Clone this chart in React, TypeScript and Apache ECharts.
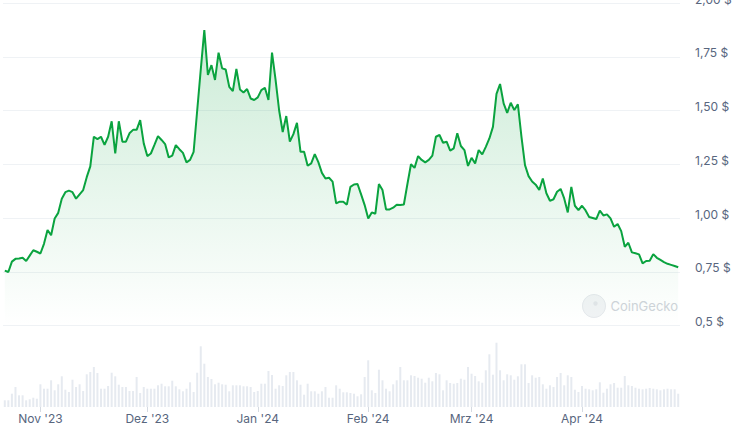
import React, { useEffect, useRef } from "react";
import * as echarts from "echarts";

const START_DATE = "2023-10-22";
const DAY_COUNT = 190;

const prices = [
  0.755, 0.749, 0.797, 0.81, 0.812, 0.815, 0.8, 0.825, 0.85, 0.843,
  0.835, 0.88, 0.944, 0.92, 0.998, 1.024, 1.09, 1.12, 1.127, 1.12,
  1.09, 1.11, 1.13, 1.19, 1.24, 1.378, 1.367, 1.378, 1.34, 1.378,
  1.45, 1.3, 1.45, 1.355, 1.355, 1.394, 1.41, 1.41, 1.455, 1.347,
  1.288, 1.3, 1.34, 1.381, 1.363, 1.344, 1.282, 1.29, 1.339, 1.32,
  1.303, 1.259, 1.27, 1.308, 1.5, 1.69, 1.874, 1.665, 1.711, 1.642,
  1.769, 1.696, 1.691, 1.61, 1.59, 1.693, 1.598, 1.584, 1.6, 1.556,
  1.549, 1.561, 1.595, 1.606, 1.549, 1.769, 1.642, 1.5, 1.4, 1.474,
  1.355, 1.39, 1.443, 1.308, 1.308, 1.243, 1.254, 1.297, 1.26, 1.21,
  1.184, 1.187, 1.169, 1.068, 1.076, 1.076, 1.062, 1.145, 1.156, 1.158,
  1.11, 1.06, 0.998, 1.026, 1.02, 1.158, 1.13, 1.04, 1.04, 1.048,
  1.062, 1.06, 1.063, 1.158, 1.25, 1.233, 1.288, 1.27, 1.259, 1.27,
  1.29, 1.378, 1.386, 1.35, 1.355, 1.313, 1.324, 1.394, 1.335, 1.316,
  1.242, 1.28, 1.254, 1.316, 1.296, 1.331, 1.37, 1.424, 1.577, 1.623,
  1.533, 1.489, 1.536, 1.502, 1.529, 1.378, 1.246, 1.195, 1.17, 1.155,
  1.13, 1.184, 1.115, 1.08, 1.087, 1.122, 1.135, 1.091, 1.026, 1.145,
  1.057, 1.037, 1.057, 1.035, 1.005, 1.0, 0.995, 1.034, 1.012, 1.017,
  0.998, 0.959, 0.972, 0.939, 0.866, 0.885, 0.84, 0.836, 0.831, 0.789,
  0.8, 0.801, 0.832, 0.815, 0.805, 0.795, 0.787, 0.782, 0.777, 0.771,
];

const volumes = [
  6.7, 6.7, 13.3, 20, 11.7, 11.7, 6.7, 7.7, 9.3, 8.3,
  22.7, 18.3, 18.3, 26.7, 16.7, 22.7, 30.7, 17.3, 15, 27.3,
  20, 22.7, 16, 32.7, 35, 40, 34, 18.3, 18.3, 21,
  34.3, 30.7, 22.3, 20, 20, 16, 16, 30, 14, 20,
  18.3, 18.3, 18.3, 21.7, 23.3, 20.7, 20.7, 26.3, 20.7, 17.7,
  15.7, 18.3, 24.7, 15, 34.3, 60.7, 43.3, 30, 28, 22.7,
  24.3, 22.7, 22.3, 15.7, 21.7, 21.7, 21.7, 20.7, 20.7, 20,
  15, 16, 23.3, 23.3, 36, 32, 18.3, 21.7, 21, 31.7,
  35, 35, 26.7, 22.3, 12.3, 23.3, 15.7, 15.7, 13.3, 15.7,
  20, 9.3, 9.3, 21.7, 18.3, 14.7, 14.7, 14, 13.3, 10.7,
  12.7, 30, 46.7, 16.7, 14, 37.3, 26.7, 18.3, 15.7, 22.7,
  26.7, 40, 26.7, 26.7, 31.7, 31, 29.3, 28.3, 24.3, 29.3,
  25.7, 34, 32.7, 16.7, 26.7, 24, 23.3, 24, 28.3, 27.3,
  40, 33.3, 31, 25.7, 24.3, 36.7, 52.7, 32.3, 64.3, 36.7,
  26.7, 32.7, 31.7, 27.3, 30.7, 42.7, 42.7, 24, 31.7, 29.3,
  30, 22.7, 18.3, 21.7, 20, 30, 34, 21.7, 31.7, 30,
  17.3, 15, 21, 18.3, 17.7, 16.7, 17.7, 24.7, 14.3, 18.3,
  22.7, 24, 19.3, 19.3, 31, 21.7, 21, 19.3, 18.3, 17.7,
  18.3, 19, 18.3, 17.7, 16.7, 17.7, 18.3, 17.7, 17.7, 13.3,
];

const priceTicks = [0.5, 0.75, 1.0, 1.25, 1.5, 1.75, 2.0];
const monthNames = ["Jan", "Feb", "Mrz", "Apr", "Mai", "Jun", "Jul", "Aug", "Sep", "Okt", "Nov", "Dez"];

function buildDates(): string[] {
  const out: string[] = [];
  const [y, m, d] = START_DATE.split("-").map(Number);
  const base = Date.UTC(y, m - 1, d);
  for (let i = 0; i < DAY_COUNT; i++) {
    out.push(new Date(base + i * 86400000).toISOString().slice(0, 10));
  }
  return out;
}

const dates = buildDates();

function fmtMonth(v: string): string {
  const [y, m] = v.split("-");
  return `${monthNames[Number(m) - 1]} '${y.slice(2)}`;
}

function fmtPrice(v: number): string {
  if (Math.abs(v - 0.5) < 1e-9) return "0,5 $";
  return v.toFixed(2).replace(".", ",") + " $";
}

const FONT = "Inter, 'Noto Sans', sans-serif";
const isMonthStart = (_i: number, v: string) => v.endsWith("-01");

export default function App() {
  const ref = useRef<HTMLDivElement>(null);
  useEffect(() => {
    if (!ref.current) return;
    const chart = echarts.init(ref.current, undefined, { renderer: "svg" });
    chart.setOption({
      animation: false,
      textStyle: { fontFamily: FONT },
      grid: [
        { left: 3, width: 677, top: 3, height: 322.5, containLabel: false, outerBoundsMode: "none" },
        { left: 3, width: 677, top: 330, height: 77, containLabel: false, outerBoundsMode: "none" },
      ],
      xAxis: [
        {
          type: "category",
          gridIndex: 0,
          data: dates,
          boundaryGap: true,
          axisLine: { show: false },
          axisTick: { show: false },
          axisLabel: { show: false },
          splitLine: { show: false },
        },
        {
          type: "category",
          gridIndex: 1,
          data: dates,
          boundaryGap: true,
          axisLine: { show: false },
          axisTick: {
            show: true,
            interval: isMonthStart,
            alignWithLabel: true,
            length: 5,
            lineStyle: { color: "#d5dae1", width: 1 },
          },
          axisLabel: {
            interval: isMonthStart,
            formatter: fmtMonth,
            color: "#58667e",
            fontSize: 12,
            fontFamily: FONT,
            margin: 5,
          },
          splitLine: { show: false },
        },
      ],
      yAxis: [
        {
          type: "value",
          gridIndex: 0,
          position: "right",
          min: priceTicks[0],
          max: priceTicks[priceTicks.length - 1],
          interval: 0.25,
          axisLine: { show: false },
          axisTick: { show: false },
          axisLabel: {
            formatter: (v: number) => `{t|${fmtPrice(v)}}`,
            margin: 15,
            verticalAlign: "middle",
            rich: {
              t: {
                color: "#58667e",
                fontSize: 12,
                fontFamily: FONT,
                padding: [0, 0, 8, 0],
              },
            },
          },
          splitLine: { lineStyle: { color: "#eff2f5", width: 1 } },
        },
        {
          type: "value",
          gridIndex: 1,
          min: 0,
          max: 77,
          show: false,
          splitLine: { show: false },
        },
      ],
      series: [
        {
          type: "line",
          xAxisIndex: 0,
          yAxisIndex: 0,
          data: prices,
          symbol: "none",
          smooth: false,
          lineStyle: { color: "#0aa33f", width: 2 },
          areaStyle: {
            origin: "start",
            color: new echarts.graphic.LinearGradient(0, 0, 0, 1, [
              { offset: 0, color: "rgba(10,163,63,0.3)" },
              { offset: 1, color: "rgba(10,163,63,0.0)" },
            ]),
          },
          z: 3,
        },
        {
          type: "bar",
          xAxisIndex: 1,
          yAxisIndex: 1,
          data: volumes,
          barWidth: 2,
          itemStyle: { color: "#e6eaf0" },
        },
      ],
      graphic: [
        {
          type: "group",
          left: 582,
          top: 294,
          children: [
            {
              type: "circle",
              shape: { cx: 11.5, cy: 11.5, r: 11.5 },
              style: { fill: "#f1f3f5", stroke: "#e6e9ed", lineWidth: 1 },
            },
            {
              type: "circle",
              shape: { cx: 13, cy: 9, r: 2.2 },
              style: { fill: "#e2e5e9" },
            },
            {
              type: "text",
              x: 28,
              y: 11.5,
              style: {
                text: "CoinGecko",
                fill: "#cfd4da",
                fontSize: 13,
                fontFamily: FONT,
                verticalAlign: "middle",
              },
            },
          ],
        },
      ],
    });
    return () => chart.dispose();
  }, []);
  return (
    <div
      ref={ref}
      style={{ position: "fixed", left: 0, top: 0, width: 732, height: 426, background: "#fff" }}
    />
  );
}
